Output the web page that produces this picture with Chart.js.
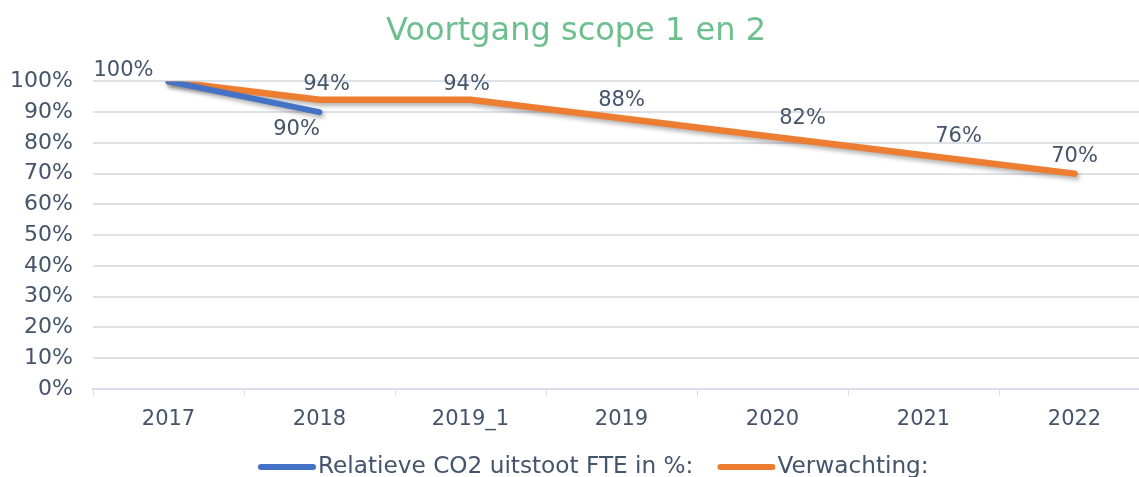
<!DOCTYPE html>
<html>
<head>
<meta charset="utf-8">
<script src="https://cdn.jsdelivr.net/npm/chart.js@4.4.0/dist/chart.umd.min.js"></script>
<style>
  html, body { margin: 0; padding: 0; background: #fff; overflow: hidden; }
  #wrap { width: 1139px; height: 477px; overflow: hidden; position: relative; }
  #box { width: 1150px; height: 477px; position: absolute; left: 0; top: 0; }
</style>
</head>
<body>
<div id="wrap"><div id="box"><canvas id="chart"></canvas></div></div>
<script>
// chart data
const categories = ['2017', '2018', '2019_1', '2019', '2020', '2021', '2022'];
const actualValues = [100, 90, null, null, null, null, null];
const expectedValues = [100, 94, 94, 88, 82, 76, 70];
const yTicks = [0, 10, 20, 30, 40, 50, 60, 70, 80, 90, 100];

const textColor = '#44546a';
const fontFamily = '"DejaVu Sans", Verdana, sans-serif';

// label placement (pixel offsets from the point), like the manual Excel labels
const labelOffsets = [
  [[-45, -11], [-23, 17]],
  [null, [7, -15], [-4, -15], [0, -18], [30, -18], [35, -19], [0, -17]]
];

const shadowPlugin = {
  id: 'lineShadow',
  beforeDatasetDraw(chart) {
    const c = chart.ctx;
    c.save();
    c.shadowColor = 'rgba(0,0,0,0.3)';
    c.shadowBlur = 4;
    c.shadowOffsetX = 2;
    c.shadowOffsetY = 3;
  },
  afterDatasetDraw(chart) { chart.ctx.restore(); }
};

const labelPlugin = {
  id: 'pctLabels',
  afterDatasetsDraw(chart) {
    const c = chart.ctx;
    c.save();
    c.font = '21px ' + fontFamily;
    c.fillStyle = textColor;
    c.textAlign = 'center';
    c.textBaseline = 'middle';
    chart.data.datasets.forEach((ds, di) => {
      const meta = chart.getDatasetMeta(di);
      ds.data.forEach((v, i) => {
        const off = labelOffsets[di][i];
        if (v == null || !off) return;
        const pt = meta.data[i];
        c.fillText(v + '%', pt.x + off[0], pt.y + off[1]);
      });
    });
    c.restore();
  }
};

// bottom legend drawn by hand so the spacing matches the Excel one
const legendPlugin = {
  id: 'lineLegend',
  afterDraw(chart) {
    const c = chart.ctx;
    c.save();
    c.font = '23.2px ' + fontFamily;
    c.textBaseline = 'middle';
    c.lineCap = 'round';
    const y = 467;
    let x = 258;
    chart.data.datasets.forEach(ds => {
      c.strokeStyle = ds.borderColor;
      c.lineWidth = 6;
      c.beginPath();
      c.moveTo(x + 3, y);
      c.lineTo(x + 55, y);
      c.stroke();
      c.fillStyle = textColor;
      c.fillText(ds.label, x + 60, y);
      x += 60 + c.measureText(ds.label).width + 24;
    });
    c.restore();
  }
};

new Chart(document.getElementById('chart'), {
  type: 'line',
  data: {
    labels: categories,
    datasets: [
      {
        label: 'Relatieve CO2 uitstoot FTE in %:',
        data: actualValues,
        borderColor: '#4472c4',
        backgroundColor: '#4472c4',
        borderWidth: 6,
        borderCapStyle: 'round',
        pointRadius: 0,
        spanGaps: false
      },
      {
        label: 'Verwachting:',
        data: expectedValues,
        borderColor: '#ed7d31',
        backgroundColor: '#ed7d31',
        borderWidth: 6.5,
        borderCapStyle: 'round',
        pointRadius: 0
      }
    ]
  },
  options: {
    responsive: true,
    maintainAspectRatio: false,
    animation: false,
    layout: { padding: { left: 2, right: 0, top: 0, bottom: 34 } },
    plugins: {
      title: {
        display: true,
        text: 'Voortgang scope 1 en 2',
        color: '#6dbf8e',
        font: { family: fontFamily, size: 32, weight: 'normal' },
        padding: { top: 12, bottom: 31 }
      },
      legend: { display: false },
      tooltip: { enabled: false }
    },
    scales: {
      x: {
        offset: true,
        grid: { offset: true, drawOnChartArea: false, drawTicks: true, tickLength: 7, color: '#d9dde5' },
        border: { color: '#d9dde5', width: 2 },
        ticks: { color: textColor, font: { family: fontFamily, size: 21 }, padding: 11 }
      },
      y: {
        min: 0,
        max: 100,
        afterBuildTicks(axis) { axis.ticks = yTicks.map(v => ({ value: v })); },
        afterFit(axis) { axis.width = 91; },
        grid: { color: '#dde1e8', lineWidth: 2, drawTicks: false },
        border: { display: false },
        ticks: {
          color: textColor,
          font: { family: fontFamily, size: 22 },
          padding: 20,
          callback: v => v + '%'
        }
      }
    }
  },
  plugins: [shadowPlugin, labelPlugin, legendPlugin]
});
</script>
</body>
</html>
